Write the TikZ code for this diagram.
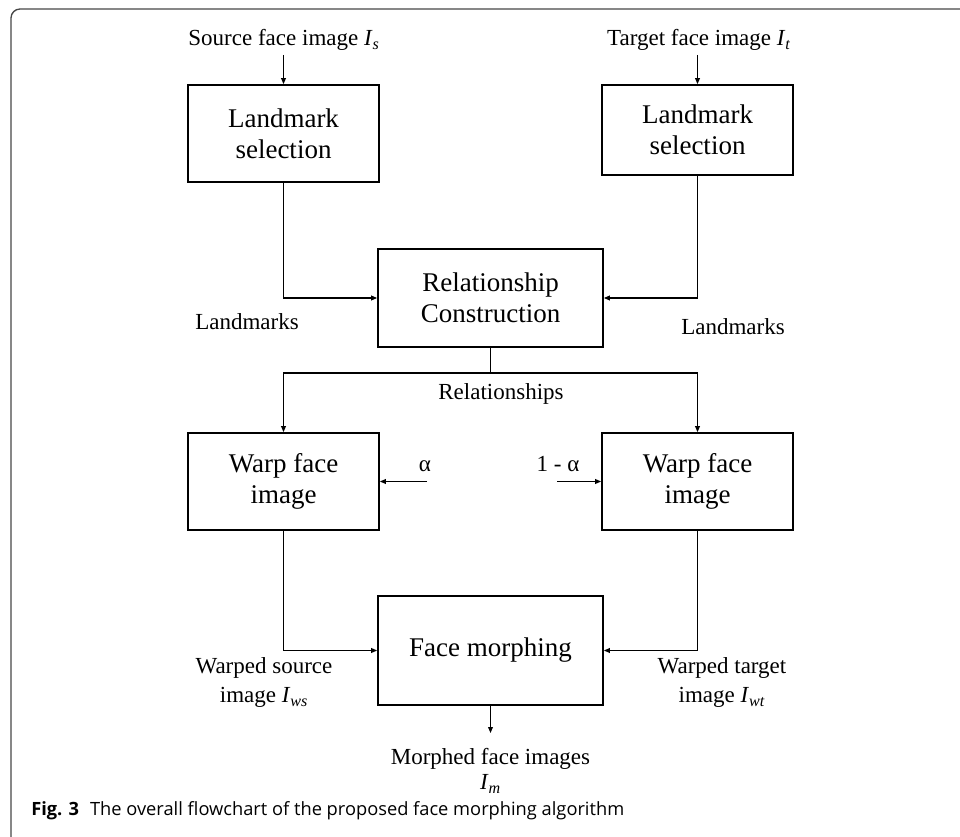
\documentclass[tikz,border=0pt]{standalone}
\usepackage{fontspec}
\setmainfont{Liberation Serif}
\newfontfamily\capfont{Open Sans}
\usetikzlibrary{arrows.meta}
\newcommand\Isb[2]{\textit{#1}\textsubscript{\textit{#2}}}
\begin{document}
\begin{tikzpicture}[x=0.75pt,y=-0.75pt,
  boxnode/.style={draw, line width=1.3pt, align=center, inner sep=0pt,
    font=\fontsize{20.25pt}{23.25pt}\selectfont, minimum width=143.25pt},
  widebox/.style={boxnode, minimum width=168.75pt},
  lbl/.style={inner sep=0pt, align=center, font=\fontsize{17.25pt}{21.75pt}\selectfont},
  conn/.style={line width=0.8pt},
  arr/.style={conn, -{Triangle[length=4.5pt,width=3.6pt]}},
  framestyle/.style={draw=black!72, line width=1pt, rounded corners=6.75pt}
]
\useasboundingbox (0,0) rectangle (960,837);
\draw[framestyle] (11,837) -- (11,9) -- (961,9);

% boxes
\node[boxnode, minimum height=72.75pt] (lm1) at (283.5,133.5) {Landmark\\selection};
\node[boxnode, minimum height=67.5pt] (lm2) at (697.5,130) {Landmark\\selection};
\node[widebox, minimum height=73.5pt] (rel) at (490.5,298) {Relationship\\Construction};
\node[boxnode, minimum height=72.75pt] (wp1) at (283.5,481.5) {Warp face\\image};
\node[boxnode, minimum height=72.75pt] (wp2) at (697.5,481.5) {Warp face\\image};
\node[widebox, minimum height=81.75pt] (fm) at (490.5,650.5) {Face morphing};

% labels
\node[lbl, anchor=base] (srcL) at (284,46) {Source face image \Isb{I}{s}};
\node[lbl, anchor=base] (tgtL) at (699,46) {Target face image \Isb{I}{t}};
\node[lbl, anchor=base] (lmL1) at (247,330) {Landmarks};
\node[lbl, anchor=base] (lmL2) at (733,335) {Landmarks};
\node[lbl, anchor=base] (relL) at (501,400) {Relationships};
\node[lbl, anchor=base] (aL) at (425,472) {α};
\node[lbl, anchor=base] (bL) at (558,472) {1 - α};
\node[lbl] (wsL) at (264,683) {Warped source\\image \Isb{I}{ws}};
\node[lbl] (wtL) at (722,683) {Warped target\\image \Isb{I}{wt}};
\node[lbl] (mfL) at (490.5,771) {Morphed face images\\[-3pt]\Isb{I}{m}};
\node[anchor=base west, inner sep=0pt, font=\capfont\fontsize{13.7pt}{16pt}\selectfont] (cap) at (31,815)
  {\textbf{Fig. 3}\hspace{0.6em}The overall flowchart of the proposed face morphing algorithm};

% free ends
\coordinate (s0) at (283.5,55);
\coordinate (t0) at (697.5,55);
\coordinate (split) at (490.5,373);
\coordinate (aS) at (427,481.5);
\coordinate (bS) at (557,481.5);
\coordinate (mEnd) at (490.5,733);

% connectors
\draw[arr] (s0) -- (lm1.north);
\draw[arr] (t0) -- (lm2.north);
\draw[arr] (lm1.south) |- (rel.west);
\draw[arr] (lm2.south) |- (rel.east);
\draw[conn] (rel.south) -- (split);
\draw[arr] (split) -| (wp1.north);
\draw[arr] (split) -| (wp2.north);
\draw[arr] (aS) -- (wp1.east);
\draw[arr] (bS) -- (wp2.west);
\draw[arr] (wp1.south) |- (fm.west);
\draw[arr] (wp2.south) |- (fm.east);
\draw[arr] (fm.south) -- (mEnd);
\end{tikzpicture}
\end{document}
